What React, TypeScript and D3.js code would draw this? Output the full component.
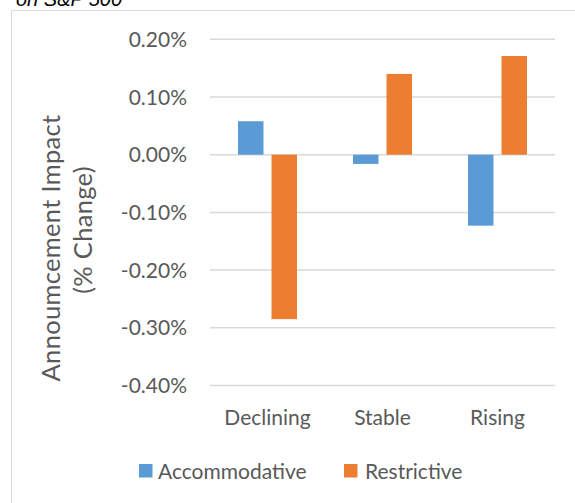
import React from "react";
import * as d3 from "d3";

const categories = ["Declining", "Stable", "Rising"];
const seriesNames = ["Accommodative", "Restrictive"];
const accommodative = [0.058, -0.016, -0.123];
const restrictive = [-0.285, 0.14, 0.171];
const yTicks = [0.2, 0.1, 0, -0.1, -0.2, -0.3, -0.4];
const colors = ["#5B9BD5", "#ED7D31"];

const W = 575;
const H = 503;
const FONT = "Lato, 'Open Sans', sans-serif";

export default function App() {
  const y = d3.scaleLinear().domain([-0.4, 0.2]).range([385.5, 39.3]);
  const x0 = d3.scaleBand<string>().domain(categories).range([210, 555]).padding(0);
  const groupW = 59;
  const x1 = d3
    .scaleBand<string>()
    .domain(seriesNames)
    .range([0, groupW])
    .paddingInner(0.24)
    .paddingOuter(0);
  const values = [accommodative, restrictive];
  const fmt = (v: number) => v.toFixed(2) + "%";

  return (
    <svg
      width={W}
      height={H}
      style={{ position: "absolute", left: 0, top: 0, background: "#fff" }}
    >
      <rect x={0} y={0} width={W} height={H} fill="#fff" />
      {/* title, cut off at the top edge as in the reference */}
      <text
        x={16}
        y={6}
        fontFamily="'Liberation Sans', Arial, sans-serif"
        fontStyle="italic"
        fontSize={20}
        fill="#000"
      >
        on S&amp;P 500
      </text>
      {/* chart border */}
      <line x1={11.5} x2={W} y1={10.5} y2={10.5} stroke="#D9D9D9" strokeWidth={1} />
      <line x1={11.5} x2={11.5} y1={10.5} y2={H} stroke="#D9D9D9" strokeWidth={1} />

      {/* gridlines */}
      {yTicks.map((t) => (
        <line
          key={"g" + t}
          x1={210}
          x2={555}
          y1={y(t)}
          y2={y(t)}
          stroke="#D9D9D9"
          strokeWidth={1.5}
        />
      ))}
      {/* tick labels */}
      {yTicks.map((t) => (
        <text
          key={"t" + t}
          x={187}
          y={y(t)}
          dy="0.36em"
          textAnchor="end"
          fontFamily={FONT}
          fontSize={21}
          fill="#595959"
        >
          {fmt(t)}
        </text>
      ))}

      {/* bars */}
      {categories.map((c, i) =>
        seriesNames.map((s, j) => {
          const v = values[j][i];
          const xb = (x0(c) as number) + (x0.bandwidth() - groupW) / 2 + (x1(s) as number);
          const y0 = y(0);
          const yv = y(v);
          return (
            <rect
              key={c + s}
              x={xb}
              y={Math.min(y0, yv)}
              width={x1.bandwidth()}
              height={Math.abs(yv - y0)}
              fill={colors[j]}
            />
          );
        })
      )}

      {/* category labels */}
      {categories.map((c) => (
        <text
          key={"c" + c}
          x={(x0(c) as number) + x0.bandwidth() / 2}
          y={425}
          textAnchor="middle"
          fontFamily={FONT}
          fontSize={21}
          fill="#595959"
        >
          {c}
        </text>
      ))}

      {/* y axis title */}
      <text
        transform={`translate(60,248) rotate(-90)`}
        textAnchor="middle"
        fontFamily={FONT}
        fontSize={25.5}
        letterSpacing={0.3}
        fill="#595959"
      >
        Annoumcement Impact
      </text>
      <text
        transform={`translate(92,230) rotate(-90)`}
        textAnchor="middle"
        fontFamily={FONT}
        fontSize={25.5}
        letterSpacing={0.3}
        fill="#595959"
      >
        (% Change)
      </text>

      {/* legend */}
      <rect x={139} y={464} width={13.5} height={13.5} fill={colors[0]} />
      <text x={158} y={471} dy="0.36em" fontFamily={FONT} fontSize={21} fill="#595959">
        {seriesNames[0]}
      </text>
      <rect x={344} y={464} width={13.5} height={13.5} fill={colors[1]} />
      <text x={365} y={471} dy="0.36em" fontFamily={FONT} fontSize={21} fill="#595959">
        {seriesNames[1]}
      </text>
    </svg>
  );
}
